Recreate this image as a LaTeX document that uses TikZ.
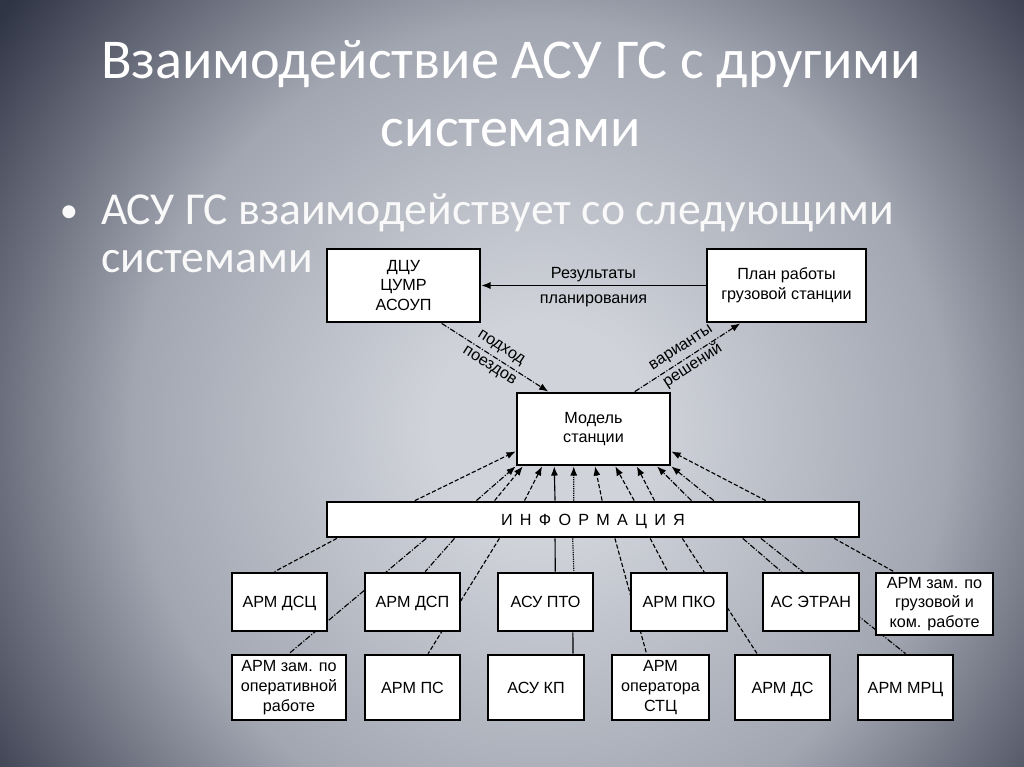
\documentclass[tikz,border=0pt]{standalone}
\usepackage{fontspec}
\setmainfont{Liberation Sans}
\newfontfamily\slidefont{Carlito}
\newfontfamily\spacedfont[LetterSpace=45]{Liberation Sans}
\usetikzlibrary{arrows.meta,calc}

\definecolor{bgin}{RGB}{208,211,218}
\definecolor{bgmid}{RGB}{162,166,177}
\definecolor{bgout}{RGB}{48,53,70}
% central 50bp square is fitted to the path, so 25bp is the circle's rim
\pgfdeclareradialshading{slidebg}{\pgfpointorigin}{color(0bp)=(bgin); color(4bp)=(bgin); color(15bp)=(bgmid); color(25bp)=(bgout); color(50bp)=(bgout)}

\pgfdeclarelayer{back}
\pgfdeclarelayer{lines}
\pgfsetlayers{back,lines,main}

\def\pix{0.025cm}

\begin{document}
\begin{tikzpicture}[
  x=0.025cm, y=-0.025cm,
  box/.style={draw, line width=2pt, fill=white, inner sep=1pt, align=center, font=\fontsize{11.5}{14}\selectfont},
  single/.style={text height=8.3pt, text depth=0pt},
  rowone/.style={box, minimum width=95*\pix, minimum height=58*\pix},
  rowtwo/.style={box, minimum width=95*\pix, minimum height=65*\pix},
  ttl/.style={text=white, font=\slidefont\fontsize{40}{48}\selectfont, inner sep=0pt},
  bul/.style={text=white!95!gray, font=\slidefont\fontsize{32.5}{40}\selectfont, inner sep=0pt},
  lbl/.style={font=\fontsize{11.5}{15.5}\selectfont, align=center, inner sep=1pt},
  conn/.style={line width=0.8pt},
  dsh/.style={conn, dash pattern=on 3pt off 1.5pt},
  dshdot/.style={conn, dash pattern=on 4pt off 1.2pt on 0.8pt off 1.2pt},
  dots/.style={conn, dash pattern=on 0.8pt off 0.8pt},
  arr/.style={-{Latex[length=6.5pt, width=5pt]}},
]

\useasboundingbox (0,0) rectangle (1024,767);

% --- Background ---
\begin{pgfonlayer}{back}
\fill[bgout] (0,0) rectangle (1024,767);
\begin{scope}
\clip (0,0) rectangle (1024,767);
\shade[shading=slidebg] (540,430) circle (680);
\end{scope}
\end{pgfonlayer}

% --- Title and bullet ---
\node[ttl, anchor=base] (ttl1) at (511,79) {Взаимодействие АСУ ГС с другими};
\node[ttl, anchor=base] (ttl2) at (511,147) {системами};
\node[bul, anchor=base, font=\slidefont\fontsize{26}{30}\selectfont] (dot) at (69,223) {•};
\node[bul, anchor=base west] (bul1) at (101,225) {АСУ ГС взаимодействует со следующими};
\node[bul, anchor=base west] (bul2) at (101,273) {системами};

% --- Upper boxes ---
\node[box, minimum width=153*\pix, minimum height=73*\pix] (dcu) at (403.5,285.5) {ДЦУ\\ЦУМР\\АСОУП};
\node[box, minimum width=159*\pix, minimum height=73*\pix] (plan) at (786.5,285.5) {План работы\\грузовой станции};
\node[box, minimum width=153*\pix, minimum height=72*\pix] (model) at (593.5,429) {Модель\\станции};
\node[box, single, minimum width=532*\pix, minimum height=35*\pix, font=\spacedfont\fontsize{11.5}{14}\selectfont] (info) at (593,519.5) {ИНФОРМАЦИЯ};

% --- Row 1 ---
\node[rowone, single] (dsc) at (279.5,602) {АРМ ДСЦ};
\node[rowone, single] (dsp) at (412.5,602) {АРМ ДСП};
\node[rowone, single] (pto) at (545.5,602) {АСУ ПТО};
\node[rowone, single, minimum width=96*\pix] (pko) at (679,602) {АРМ ПКО};
\node[rowone, single, minimum width=96*\pix] (etran) at (811,602) {АС ЭТРАН};
\node[rowone, minimum width=117*\pix, minimum height=62*\pix] (zamgr) at (934.5,604) {АРМ зам. по\\грузовой и\\ком. работе};

% --- Row 2 ---
\node[rowtwo, minimum width=114*\pix] (zamop) at (289,687.5) {АРМ зам. по\\оперативной\\работе};
\node[rowtwo, single] (ps) at (412.5,687.5) {АРМ ПС};
\node[rowtwo, single, minimum width=96*\pix] (kp) at (536,687.5) {АСУ КП};
\node[rowtwo, minimum width=97*\pix] (stc) at (660.5,687.5) {АРМ\\оператора\\СТЦ};
\node[rowtwo, single] (ds) at (782.5,687.5) {АРМ ДС};
\node[rowtwo, single] (mrc) at (905.5,687.5) {АРМ МРЦ};

\begin{pgfonlayer}{lines}
% --- Planning loop ---
\draw[conn, arr] (plan.west) -- (dcu.east)
  node[midway, lbl, above=1pt] (res) {Результаты}
  node[midway, lbl, below=5pt] (pln) {планирования};
\draw[dshdot, arr] ($(dcu.south west)!0.745!(dcu.south east)$) -- ($(model.north west)!0.21!(model.north east)$)
  node[midway, lbl, sloped] (podh) {подход\\поездов};
\draw[dshdot, arr] ($(model.north west)!0.765!(model.north east)$) -- ($(plan.south west)!0.214!(plan.south east)$)
  node[midway, lbl, sloped] (var) {варианты\\решений};

% --- Information to model ---
\draw[dsh, arr] ($(info.north west)!0.167!(info.north east)$) -- ($(model.south west)!0.2!(model.north west)$);
\draw[dshdot, arr] ($(info.north west)!0.282!(info.north east)$) -- (model.south west);
\draw[dsh, arr] ($(info.north west)!0.316!(info.north east)$) -- ($(model.south west)!0.046!(model.south east)$);
\draw[dsh, arr] ($(info.north west)!0.372!(info.north east)$) -- ($(model.south west)!0.17!(model.south east)$);
\draw[conn, arr] ($(info.north west)!0.429!(info.north east)$) -- ($(model.south west)!0.248!(model.south east)$);
\draw[dots, arr] ($(info.north west)!0.464!(info.north east)$) -- ($(model.south west)!0.373!(model.south east)$);
\draw[dsh, arr] ($(info.north west)!0.517!(info.north east)$) -- ($(model.south west)!0.51!(model.south east)$);
\draw[dsh, arr] ($(info.north west)!0.577!(info.north east)$) -- ($(model.south west)!0.64!(model.south east)$);
\draw[dsh, arr] ($(info.north west)!0.615!(info.north east)$) -- ($(model.south west)!0.778!(model.south east)$);
\draw[dshdot, arr] ($(info.north west)!0.684!(info.north east)$) -- ($(model.south west)!0.908!(model.south east)$);
\draw[dshdot, arr] ($(info.north west)!0.726!(info.north east)$) -- (model.south east);
\draw[dsh, arr] ($(info.north west)!0.823!(info.north east)$) -- ($(model.south east)!0.2!(model.north east)$);

% --- Information to workstations ---
\draw[dsh] ($(info.south west)!0.021!(info.south east)$) -- ($(dsc.north west)!0.45!(dsc.north east)$);
\draw[dshdot] ($(info.south west)!0.188!(info.south east)$) -- (zamop.north);
\draw[dshdot] ($(info.south west)!0.241!(info.south east)$) -- ($(dsp.north west)!0.63!(dsp.north east)$);
\draw[dsh] ($(info.south west)!0.325!(info.south east)$) -- ($(ps.north west)!0.66!(ps.north east)$);
\draw[conn] ($(info.south west)!0.429!(info.south east)$) -- ($(pto.north west)!0.6!(pto.north east)$);
\draw[dots] ($(info.south west)!0.462!(info.south east)$) -- ($(pto.north west)!0.79!(pto.north east)$);
\draw[dsh] ($(info.south west)!0.541!(info.south east)$) -- ($(stc.north west)!0.36!(stc.north east)$);
\draw[dsh] ($(info.south west)!0.607!(info.south east)$) -- ($(pko.north west)!0.385!(pko.north east)$);
\draw[dsh] ($(info.south west)!0.667!(info.south east)$) -- ($(ds.north west)!0.24!(ds.north east)$);
\draw[dshdot] ($(info.south west)!0.78!(info.south east)$) -- ($(etran.north west)!0.2!(etran.north east)$);
\draw[dshdot] ($(info.south west)!0.814!(info.south east)$) -- (mrc.north);
\draw[dsh] ($(info.south west)!0.951!(info.south east)$) -- ($(zamgr.north west)!0.16!(zamgr.north east)$);
\draw[conn] ($(pto.south west)!0.78!(pto.south east)$) -- ($(kp.north west)!0.875!(kp.north east)$);
\end{pgfonlayer}

\end{tikzpicture}
\end{document}
